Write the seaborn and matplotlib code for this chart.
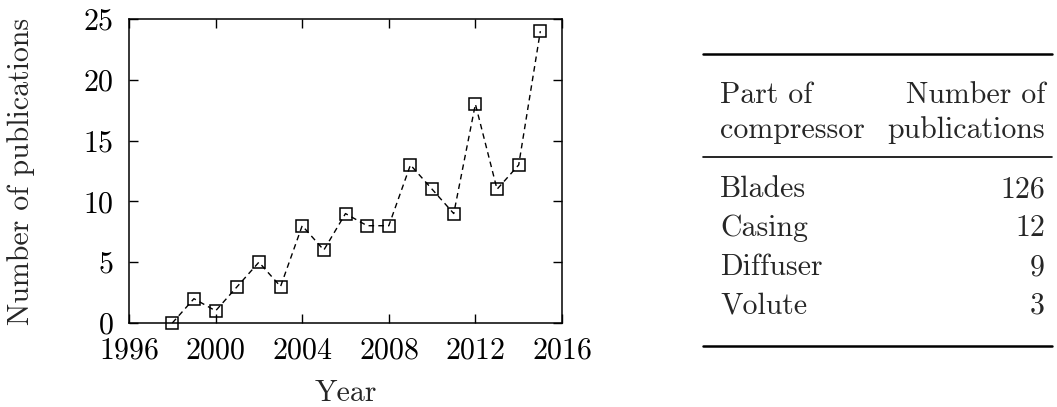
import matplotlib
matplotlib.use("Agg")
import matplotlib.pyplot as plt
import seaborn as sns
import pandas as pd
from matplotlib.lines import Line2D

years = [1998, 1999, 2000, 2001, 2002, 2003, 2004, 2005, 2006, 2007, 2008,
         2009, 2010, 2011, 2012, 2013, 2014, 2015]
counts = [0, 2, 1, 3, 5, 3, 8, 6, 9, 8, 8, 13, 11, 9, 18, 11, 13, 24]
x_ticks = [1996, 2000, 2004, 2008, 2012, 2016]
y_ticks = [0, 5, 10, 15, 20, 25]

table_header = [("Part of", "Number of"), ("compressor", "publications")]
parts = ["Blades", "Casing", "Diffuser", "Volute"]
part_counts = [126, 12, 9, 3]

sns.set_style("ticks")
plt.rcParams["font.family"] = ["cmr10", "DejaVu Serif"]
plt.rcParams["axes.formatter.use_mathtext"] = True
plt.rcParams["mathtext.fontset"] = "cm"

W, H = 1057, 407
fs = 21.5
fig = plt.figure(figsize=(W / 100, H / 100), dpi=100)
ax = fig.add_axes([129 / W, 1 - 323 / H, (562 - 129) / W, (323 - 19) / H])

df = pd.DataFrame({"Year": years, "Number of publications": counts})
sns.lineplot(data=df, x="Year", y="Number of publications", ax=ax,
             color="black", linewidth=1.0, marker="s", markersize=8,
             markerfacecolor="none", markeredgecolor="black",
             markeredgewidth=1.1, clip_on=False)
for ln in ax.lines:
    ln.set_dashes([4, 3])

ax.set_xlim(1996, 2016)
ax.set_ylim(0, 25)
ax.set_xticks(x_ticks)
ax.set_yticks(y_ticks)
ax.tick_params(direction="in", top=True, right=True, length=6.5, width=1.0,
               labelsize=fs, colors="black")
ax.tick_params(axis="x", pad=10)
ax.tick_params(axis="y", pad=11)
for s in ax.spines.values():
    s.set_linewidth(1.1)
    s.set_color("black")
ax.set_xlabel("Year", fontsize=fs, labelpad=11)
ax.set_ylabel("Number of publications", fontsize=fs)
ax.yaxis.set_label_coords(-0.218, 0.5)

# Table drawn in a figure-pixel overlay axes
tax = fig.add_axes([0, 0, 1, 1])
tax.set_xlim(0, W)
tax.set_ylim(H, 0)
tax.axis("off")

x0, x1 = 703, 1052
lx, rx = 720, 1045
tax.add_line(Line2D([x0, x1], [54, 54], color="black", linewidth=1.8))
tax.add_line(Line2D([x0, x1], [157, 157], color="black", linewidth=1.2))
tax.add_line(Line2D([x0, x1], [346, 346], color="black", linewidth=1.8))

header_y = [103, 138]
for (l, r), y in zip(table_header, header_y):
    tax.text(lx, y, l, ha="left", va="baseline", fontsize=fs)
    tax.text(rx, y, r, ha="right", va="baseline", fontsize=fs)

row_y = [197, 236, 275, 313]
for p, c, y in zip(parts, part_counts, row_y):
    tax.text(lx, y, p, ha="left", va="baseline", fontsize=fs)
    tax.text(rx, y, str(c), ha="right", va="baseline", fontsize=fs)

fig.savefig("out.png", dpi=100)
